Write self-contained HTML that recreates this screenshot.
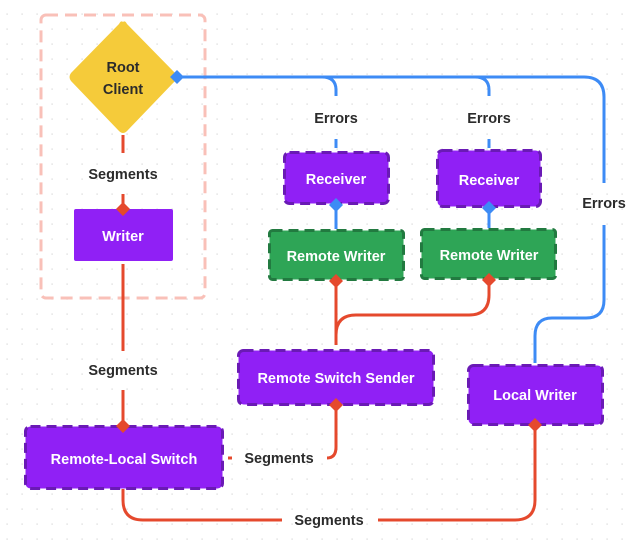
<!DOCTYPE html>
<html><head><meta charset="utf-8"><style>
html,body{margin:0;padding:0;background:#fff;}
svg{display:block;font-family:"Liberation Sans",sans-serif;font-weight:bold;}
</style></head><body>
<svg width="628" height="552" viewBox="0 0 628 552" xmlns="http://www.w3.org/2000/svg">
<defs>
<pattern id="dots" x="6" y="13" width="15" height="15" patternUnits="userSpaceOnUse">
<rect x="0.5" y="0.5" width="1.2" height="1.2" fill="#d4d4d4"/>
</pattern>
</defs>
<rect width="628" height="552" fill="url(#dots)"/>

<!-- group -->
<rect x="41" y="15" width="164" height="283" rx="5" fill="none" stroke="#f9c0b8" stroke-width="3" stroke-dasharray="12 7"/>

<!-- blue connectors -->
<g fill="none" stroke="#3d8bf5" stroke-width="3">
<path d="M177 77 H584 Q604 77 604 97 V183"/>
<path d="M604 225 V300 Q604 318 586 318 H552 Q535 318 535 336 V363"/>
<path d="M322 77 Q336 77 336 90 V96"/>
<path d="M475 77 Q489 77 489 90 V96"/>
<path d="M336 139 V148"/>
<path d="M489 139 V148"/>
<path d="M336 205 V229"/>
<path d="M489 208 V228"/>
</g>
<!-- red connectors -->
<g fill="none" stroke="#e5492d" stroke-width="3">
<path d="M123 135 V153"/>
<path d="M123 194 V209"/>
<path d="M123 264 V351"/>
<path d="M123 390 V426"/>
<path d="M336 281 V345"/>
<path d="M489 280 V295 Q489 315 469 315 H356 Q336 315 336 335"/>
<path d="M336 405 V447 Q336 458 327 458"/>
<path d="M228 458 H232"/>
<path d="M535 425 V500 Q535 520 515 520 H378"/>
<path d="M282 520 H143 Q123 520 123 500 V489"/>
</g>

<!-- diamond -->
<path d="M123 22 Q125 20 127 24 L175 73 Q178 77 175 81 L127 131 Q123 135 119 131 L71 81 Q68 77 71 73 L119 24 Q121 20 123 22Z" fill="#f5cb3a"/>
<text x="123" y="72" text-anchor="middle" font-size="14.5" fill="#2b2b2b">Root</text>
<text x="123" y="94" text-anchor="middle" font-size="14.5" fill="#2b2b2b">Client</text>

<!-- writer -->
<rect x="74" y="209" width="99" height="52" rx="2" fill="#9020f5"/>
<text x="123" y="241" text-anchor="middle" font-size="14.5" fill="#fff">Writer</text>

<!-- dashed boxes -->
<g stroke-width="3" stroke-dasharray="10 6">
<rect x="284.5" y="152.5" width="104" height="51" rx="5" fill="#9020f5" stroke="#6a1ab5"/>
<rect x="437.5" y="150.5" width="103" height="56" rx="5" fill="#9020f5" stroke="#6a1ab5"/>
<rect x="269.5" y="230.5" width="134" height="49" rx="3" fill="#2ea556" stroke="#227a40"/>
<rect x="421.5" y="229.5" width="134" height="49" rx="3" fill="#2ea556" stroke="#227a40"/>
<rect x="238.5" y="350.5" width="195" height="54" rx="5" fill="#9020f5" stroke="#6a1ab5"/>
<rect x="468.5" y="365.5" width="134" height="59" rx="5" fill="#9020f5" stroke="#6a1ab5"/>
<rect x="25.5" y="426.5" width="197" height="62" rx="5" fill="#9020f5" stroke="#6a1ab5"/>
</g>
<g font-size="14.5" fill="#fff" text-anchor="middle">
<text x="336" y="184">Receiver</text>
<text x="489" y="185">Receiver</text>
<text x="336" y="261">Remote Writer</text>
<text x="489" y="260">Remote Writer</text>
<text x="336" y="383">Remote Switch Sender</text>
<text x="535" y="400">Local Writer</text>
<text x="124" y="464">Remote-Local Switch</text>
</g>

<!-- labels -->
<g font-size="14.5" fill="#2b2b2b" text-anchor="middle">
<text x="123" y="179">Segments</text>
<text x="123" y="375">Segments</text>
<text x="336" y="123">Errors</text>
<text x="489" y="123">Errors</text>
<text x="604" y="208">Errors</text>
<text x="279" y="463">Segments</text>
<text x="329" y="525">Segments</text>
</g>

<!-- markers -->
<g fill="#3d8bf5">
<path d="M177 70 L184 77 L177 84 L170 77Z"/>
<path d="M336 198 L343 205 L336 212 L329 205Z"/>
<path d="M489 201 L496 208 L489 215 L482 208Z"/>
</g>
<g fill="#e5492d">
<path d="M123 202 L130 209 L123 216 L116 209Z"/>
<path d="M336 274 L343 281 L336 288 L329 281Z"/>
<path d="M489 273 L496 280 L489 287 L482 280Z"/>
<path d="M336 398 L343 405 L336 412 L329 405Z"/>
<path d="M535 418 L542 425 L535 432 L528 425Z"/>
<path d="M123 419 L130 426 L123 433 L116 426Z"/>
</g>
</svg>
</body></html>
